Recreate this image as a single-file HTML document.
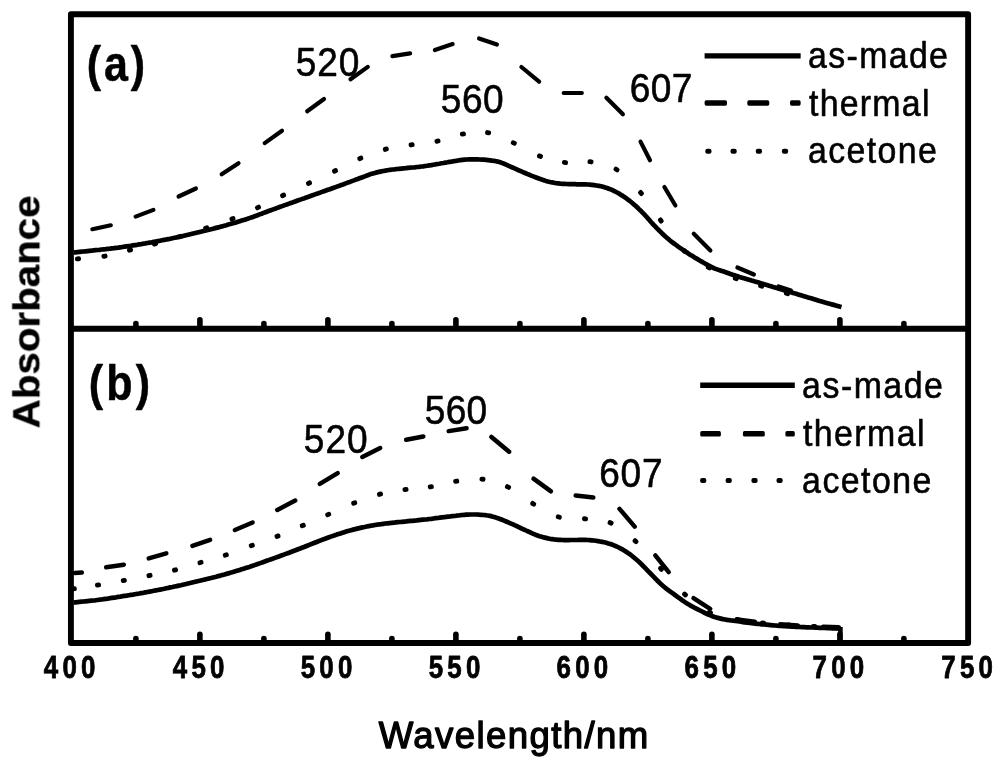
<!DOCTYPE html>
<html><head><meta charset="utf-8"><title>Absorbance spectra</title>
<style>
html,body{margin:0;padding:0;background:#fff;}
body{width:1000px;height:765px;overflow:hidden;}
svg{display:block;}
text{font-family:"Liberation Sans",sans-serif;fill:#000;}
</style></head><body>
<svg width="1000" height="765" viewBox="0 0 1000 765">
<rect x="0" y="0" width="1000" height="765" fill="#fff"/>
<!-- frame -->
<rect x="70.92" y="14.2" width="897.2" height="628.8" fill="none" stroke="#000" stroke-width="5.9" stroke-linejoin="round"/>
<line x1="70" y1="328.8" x2="968" y2="328.8" stroke="#000" stroke-width="6"/>
<g stroke="#000" stroke-width="5.6" stroke-linecap="round"><line x1="135.9" y1="326.8" x2="135.9" y2="323.6"/><line x1="199.9" y1="326.8" x2="199.9" y2="319.8"/><line x1="263.9" y1="326.8" x2="263.9" y2="323.6"/><line x1="327.9" y1="326.8" x2="327.9" y2="319.8"/><line x1="391.9" y1="326.8" x2="391.9" y2="323.6"/><line x1="455.9" y1="326.8" x2="455.9" y2="319.8"/><line x1="519.9" y1="326.8" x2="519.9" y2="323.6"/><line x1="583.9" y1="326.8" x2="583.9" y2="319.8"/><line x1="647.9" y1="326.8" x2="647.9" y2="323.6"/><line x1="711.9" y1="326.8" x2="711.9" y2="319.8"/><line x1="775.9" y1="326.8" x2="775.9" y2="323.6"/><line x1="839.9" y1="326.8" x2="839.9" y2="319.8"/><line x1="903.9" y1="326.8" x2="903.9" y2="323.6"/></g>
<g stroke="#000" stroke-width="5.6" stroke-linecap="round"><line x1="135.9" y1="641.0" x2="135.9" y2="638.6"/><line x1="199.9" y1="641.0" x2="199.9" y2="634.4"/><line x1="263.9" y1="641.0" x2="263.9" y2="638.6"/><line x1="327.9" y1="641.0" x2="327.9" y2="634.4"/><line x1="391.9" y1="641.0" x2="391.9" y2="638.6"/><line x1="455.9" y1="641.0" x2="455.9" y2="634.4"/><line x1="519.9" y1="641.0" x2="519.9" y2="638.6"/><line x1="583.9" y1="641.0" x2="583.9" y2="634.4"/><line x1="647.9" y1="641.0" x2="647.9" y2="638.6"/><line x1="711.9" y1="641.0" x2="711.9" y2="634.4"/><line x1="775.9" y1="641.0" x2="775.9" y2="638.6"/><line x1="839.9" y1="641.0" x2="839.9" y2="634.4"/><line x1="903.9" y1="641.0" x2="903.9" y2="638.6"/></g>
<!-- panel a -->
<g fill="#000"><rect x="-3.0" y="-2.45" width="6.0" height="4.9" rx="2.1" ry="2.1" transform="translate(78.0,258.8) rotate(-5)"/><rect x="-3.0" y="-2.45" width="6.0" height="4.9" rx="2.1" ry="2.1" transform="translate(104.5,256.2) rotate(-10)"/><rect x="-3.0" y="-2.45" width="6.0" height="4.9" rx="2.1" ry="2.1" transform="translate(130.0,250.0) rotate(-14)"/><rect x="-3.0" y="-2.45" width="6.0" height="4.9" rx="2.1" ry="2.1" transform="translate(155.0,243.8) rotate(-15)"/><rect x="-3.0" y="-2.45" width="6.0" height="4.9" rx="2.1" ry="2.1" transform="translate(180.5,236.5) rotate(-17)"/><rect x="-3.0" y="-2.45" width="6.0" height="4.9" rx="2.1" ry="2.1" transform="translate(206.2,228.0) rotate(-19)"/><rect x="-3.0" y="-2.45" width="6.0" height="4.9" rx="2.1" ry="2.1" transform="translate(232.5,218.8) rotate(-22)"/><rect x="-3.0" y="-2.45" width="6.0" height="4.9" rx="2.1" ry="2.1" transform="translate(258.0,207.5) rotate(-25)"/><rect x="-3.0" y="-2.45" width="6.0" height="4.9" rx="2.1" ry="2.1" transform="translate(283.1,195.4) rotate(-26)"/><rect x="-3.0" y="-2.45" width="6.0" height="4.9" rx="2.1" ry="2.1" transform="translate(309.0,183.1) rotate(-25)"/><rect x="-3.0" y="-2.45" width="6.0" height="4.9" rx="2.1" ry="2.1" transform="translate(335.0,170.9) rotate(-26)"/><rect x="-3.0" y="-2.45" width="6.0" height="4.9" rx="2.1" ry="2.1" transform="translate(360.3,158.3) rotate(-23)"/><rect x="-3.0" y="-2.45" width="6.0" height="4.9" rx="2.1" ry="2.1" transform="translate(385.8,149.2) rotate(-15)"/><rect x="-3.0" y="-2.45" width="6.0" height="4.9" rx="2.1" ry="2.1" transform="translate(411.6,144.8) rotate(-9)"/><rect x="-3.0" y="-2.45" width="6.0" height="4.9" rx="2.1" ry="2.1" transform="translate(437.5,141.1) rotate(-12)"/><rect x="-3.0" y="-2.45" width="6.0" height="4.9" rx="2.1" ry="2.1" transform="translate(462.9,134.0) rotate(-9)"/><rect x="-3.0" y="-2.45" width="6.0" height="4.9" rx="2.1" ry="2.1" transform="translate(488.1,132.7) rotate(10)"/><rect x="-3.0" y="-2.45" width="6.0" height="4.9" rx="2.1" ry="2.1" transform="translate(513.8,143.0) rotate(24)"/><rect x="-3.0" y="-2.45" width="6.0" height="4.9" rx="2.1" ry="2.1" transform="translate(540.0,156.2) rotate(21)"/><rect x="-3.0" y="-2.45" width="6.0" height="4.9" rx="2.1" ry="2.1" transform="translate(565.0,162.5) rotate(6)"/><rect x="-3.0" y="-2.45" width="6.0" height="4.9" rx="2.1" ry="2.1" transform="translate(590.5,161.8) rotate(8)"/><rect x="-3.0" y="-2.45" width="6.0" height="4.9" rx="2.1" ry="2.1" transform="translate(616.5,169.5) rotate(32)"/><rect x="-3.0" y="-2.45" width="6.0" height="4.9" rx="2.1" ry="2.1" transform="translate(641.0,193.0) rotate(49)"/><rect x="-3.0" y="-2.45" width="6.0" height="4.9" rx="2.1" ry="2.1" transform="translate(660.8,220.5) rotate(53)"/><rect x="-3.0" y="-2.45" width="6.0" height="4.9" rx="2.1" ry="2.1" transform="translate(684.5,251.0) rotate(44)"/><rect x="-3.0" y="-2.45" width="6.0" height="4.9" rx="2.1" ry="2.1" transform="translate(708.8,267.5) rotate(28)"/><rect x="-3.0" y="-2.45" width="6.0" height="4.9" rx="2.1" ry="2.1" transform="translate(735.8,278.5) rotate(19)"/><rect x="-3.0" y="-2.45" width="6.0" height="4.9" rx="2.1" ry="2.1" transform="translate(761.2,286.0) rotate(16)"/><rect x="-3.0" y="-2.45" width="6.0" height="4.9" rx="2.1" ry="2.1" transform="translate(787.0,293.5) rotate(16)"/></g>
<g stroke="#000" stroke-width="4.2" stroke-linecap="round" fill="none"><line x1="92.4" y1="229.2" x2="110.8" y2="225.3"/><line x1="135.6" y1="216.6" x2="153.4" y2="209.9"/><line x1="178.6" y1="196.5" x2="195.9" y2="188.5"/><line x1="221.7" y1="174.3" x2="238.5" y2="163.2"/><line x1="264.7" y1="143.1" x2="282.0" y2="130.7"/><line x1="307.2" y1="111.3" x2="324.0" y2="99.0"/><line x1="350.5" y1="79.3" x2="367.8" y2="66.9"/><line x1="392.4" y1="56.1" x2="410.1" y2="53.4"/><line x1="434.9" y1="50.1" x2="452.6" y2="44.1"/><line x1="479.1" y1="38.4" x2="496.9" y2="44.6"/><line x1="521.4" y1="67.0" x2="539.1" y2="81.7"/><line x1="563.7" y1="93.0" x2="581.8" y2="93.0"/><line x1="606.4" y1="97.8" x2="622.9" y2="114.2"/><line x1="640.5" y1="141.6" x2="650.0" y2="160.2"/><line x1="664.4" y1="187.0" x2="675.4" y2="205.5"/><line x1="693.8" y1="233.8" x2="710.4" y2="250.4"/><line x1="737.4" y1="267.5" x2="753.9" y2="274.5"/><line x1="778.6" y1="286.4" x2="790.9" y2="290.6"/></g>
<path d="M73.5,252.5 L75.5,252.3 L77.5,252.1 L79.5,251.9 L81.5,251.7 L83.4,251.5 L85.4,251.3 L87.4,251.1 L89.4,250.9 L91.4,250.7 L93.4,250.4 L95.5,250.2 L97.5,250.0 L99.5,249.8 L101.6,249.5 L103.7,249.3 L105.8,249.1 L107.8,248.8 L109.9,248.6 L112.0,248.3 L114.1,248.1 L116.2,247.8 L118.3,247.6 L120.4,247.3 L122.5,247.0 L124.6,246.7 L126.7,246.4 L128.8,246.1 L130.8,245.8 L132.9,245.4 L135.0,245.1 L137.1,244.8 L139.2,244.4 L141.2,244.1 L143.3,243.7 L145.4,243.4 L147.5,243.0 L149.6,242.6 L151.7,242.3 L153.8,241.9 L155.8,241.5 L157.9,241.1 L160.0,240.7 L162.1,240.3 L164.2,239.9 L166.2,239.5 L168.3,239.1 L170.4,238.7 L172.5,238.2 L174.6,237.8 L176.7,237.4 L178.8,236.9 L180.8,236.4 L182.9,236.0 L185.0,235.5 L187.1,235.0 L189.2,234.5 L191.2,234.0 L193.3,233.5 L195.4,233.0 L197.5,232.5 L199.6,232.0 L201.7,231.5 L203.8,231.0 L205.8,230.5 L207.9,230.0 L210.0,229.5 L212.1,229.0 L214.2,228.4 L216.2,227.9 L218.3,227.4 L220.4,226.8 L222.5,226.2 L224.4,225.7 L226.3,225.2 L228.3,224.6 L230.2,224.1 L232.1,223.5 L234.0,223.0 L236.0,222.4 L237.9,221.8 L239.8,221.2 L241.7,220.6 L243.7,220.0 L245.6,219.4 L247.5,218.8 L249.5,218.1 L251.4,217.4 L253.5,216.7 L255.5,215.9 L257.6,215.2 L259.6,214.4 L261.6,213.7 L263.6,212.9 L265.5,212.2 L267.4,211.5 L269.2,210.8 L270.9,210.2 L272.5,209.6 L275.1,208.7 L277.2,207.9 L279.1,207.2 L280.9,206.6 L282.8,205.9 L284.9,205.1 L287.5,204.2 L289.1,203.6 L290.8,203.0 L292.6,202.4 L294.5,201.7 L296.4,201.0 L298.4,200.3 L300.4,199.6 L302.4,198.9 L304.5,198.2 L306.5,197.4 L308.6,196.7 L310.5,196.0 L312.5,195.3 L314.4,194.6 L316.3,193.9 L318.3,193.3 L320.2,192.6 L322.1,191.9 L324.0,191.2 L326.0,190.5 L327.9,189.8 L329.8,189.2 L331.7,188.5 L333.7,187.8 L335.6,187.1 L337.5,186.4 L339.5,185.7 L341.5,184.9 L343.6,184.2 L345.7,183.4 L347.8,182.6 L349.9,181.9 L351.9,181.1 L353.9,180.4 L355.9,179.6 L357.7,179.0 L359.5,178.3 L361.1,177.7 L362.5,177.2 L365.5,176.1 L367.6,175.3 L369.2,174.6 L370.9,174.0 L373.0,173.4 L374.9,172.9 L376.9,172.4 L379.1,171.9 L381.3,171.4 L383.4,171.0 L385.5,170.6 L387.5,170.2 L390.0,169.8 L392.3,169.5 L394.5,169.3 L396.8,169.0 L399.2,168.8 L401.3,168.6 L403.5,168.4 L405.8,168.2 L408.0,167.9 L410.3,167.7 L412.5,167.5 L414.7,167.3 L416.9,167.0 L419.0,166.8 L421.2,166.5 L423.3,166.3 L425.4,166.0 L427.4,165.7 L429.4,165.4 L431.4,165.1 L433.4,164.7 L435.4,164.4 L437.5,164.0 L439.4,163.7 L441.4,163.3 L443.4,163.0 L445.5,162.6 L447.5,162.3 L449.5,161.9 L451.5,161.6 L453.7,161.2 L455.9,160.9 L458.1,160.5 L460.3,160.2 L462.4,159.9 L464.6,159.7 L466.8,159.5 L469.0,159.4 L471.1,159.4 L473.3,159.4 L475.5,159.4 L477.6,159.4 L479.7,159.5 L481.9,159.6 L484.0,159.7 L486.1,159.9 L488.1,160.1 L490.0,160.3 L492.1,160.6 L494.1,160.8 L495.9,161.2 L497.9,161.6 L500.0,162.2 L501.9,162.9 L504.0,163.7 L506.1,164.7 L508.2,165.6 L510.4,166.6 L512.5,167.5 L514.6,168.4 L516.7,169.3 L518.8,170.3 L520.8,171.2 L522.9,172.1 L525.0,173.0 L527.1,173.9 L529.2,174.7 L531.2,175.6 L533.3,176.4 L535.4,177.2 L537.5,178.0 L539.6,178.8 L541.7,179.5 L543.8,180.2 L545.8,180.9 L547.9,181.5 L550.0,182.0 L552.1,182.4 L554.2,182.8 L556.2,183.1 L558.3,183.3 L560.4,183.6 L562.5,183.8 L564.6,183.9 L566.7,184.0 L568.8,184.1 L570.8,184.1 L572.9,184.2 L575.0,184.2 L577.0,184.3 L579.1,184.3 L581.1,184.3 L583.1,184.3 L585.2,184.3 L587.5,184.5 L589.6,184.7 L591.8,184.9 L594.1,185.2 L596.4,185.5 L598.7,185.9 L601.0,186.3 L603.1,186.8 L605.1,187.4 L607.0,188.0 L608.8,188.7 L610.7,189.4 L612.5,190.2 L614.3,191.1 L616.1,192.0 L618.0,193.0 L619.8,194.1 L621.7,195.2 L623.6,196.5 L625.5,197.7 L627.3,199.1 L629.2,200.5 L630.8,201.8 L632.5,203.2 L634.1,204.6 L635.8,206.0 L637.4,207.5 L639.0,209.1 L640.7,210.7 L642.3,212.3 L643.8,213.8 L645.2,215.4 L646.7,217.0 L648.1,218.6 L649.6,220.3 L651.0,222.0 L652.5,223.6 L653.9,225.2 L655.4,226.7 L657.0,228.4 L658.7,230.0 L660.3,231.6 L661.9,233.2 L663.5,234.7 L665.1,236.2 L666.8,237.7 L668.4,239.1 L670.0,240.5 L671.7,241.8 L673.3,243.0 L674.9,244.2 L676.6,245.4 L678.2,246.6 L679.9,247.8 L681.5,248.9 L683.3,250.2 L685.1,251.4 L686.9,252.5 L688.6,253.7 L690.5,254.9 L692.5,256.1 L694.6,257.4 L696.2,258.4 L698.0,259.4 L699.8,260.5 L701.7,261.6 L703.6,262.7 L705.5,263.8 L707.4,264.8 L709.2,265.8 L710.9,266.7 L712.5,267.5 L714.9,268.6 L717.1,269.4 L719.1,270.1 L721.0,270.7 L723.0,271.3 L725.0,272.0 L727.1,272.7 L729.2,273.5 L731.2,274.2 L733.3,274.9 L735.4,275.6 L737.5,276.2 L739.4,276.9 L741.2,277.4 L743.0,277.9 L744.9,278.5 L747.2,279.2 L750.0,280.0 L751.5,280.5 L753.2,280.9 L754.9,281.5 L756.8,282.0 L758.7,282.6 L760.7,283.2 L762.7,283.8 L764.8,284.4 L766.9,285.1 L769.0,285.7 L771.0,286.3 L773.0,286.9 L775.0,287.5 L776.9,288.1 L778.8,288.7 L780.8,289.2 L782.7,289.8 L784.6,290.4 L786.5,291.0 L788.5,291.5 L790.4,292.1 L792.3,292.7 L794.2,293.3 L796.2,293.8 L798.1,294.4 L800.0,295.0 L801.9,295.6 L803.9,296.2 L805.9,296.8 L808.0,297.4 L810.0,298.0 L812.0,298.6 L814.0,299.2 L816.0,299.8 L817.9,300.4 L819.8,301.0 L821.6,301.5 L823.4,302.0 L825.0,302.5 L827.5,303.2 L829.7,303.8 L831.8,304.4 L833.8,304.9 L835.7,305.4 L837.6,305.9 L839.5,306.5 L841.5,307.0" stroke="#000" stroke-width="4.7" fill="none" stroke-linejoin="round" stroke-linecap="butt"/>
<!-- panel b -->
<g fill="#000"><rect x="-3.0" y="-2.45" width="6.0" height="4.9" rx="2.1" ry="2.1" transform="translate(73.8,588.8) rotate(-9)"/><rect x="-3.0" y="-2.45" width="6.0" height="4.9" rx="2.1" ry="2.1" transform="translate(98.0,585.0) rotate(-9)"/><rect x="-3.0" y="-2.45" width="6.0" height="4.9" rx="2.1" ry="2.1" transform="translate(123.8,580.5) rotate(-10)"/><rect x="-3.0" y="-2.45" width="6.0" height="4.9" rx="2.1" ry="2.1" transform="translate(149.5,575.5) rotate(-12)"/><rect x="-3.0" y="-2.45" width="6.0" height="4.9" rx="2.1" ry="2.1" transform="translate(175.0,570.0) rotate(-14)"/><rect x="-3.0" y="-2.45" width="6.0" height="4.9" rx="2.1" ry="2.1" transform="translate(200.5,562.5) rotate(-16)"/><rect x="-3.0" y="-2.45" width="6.0" height="4.9" rx="2.1" ry="2.1" transform="translate(225.8,555.0) rotate(-18)"/><rect x="-3.0" y="-2.45" width="6.0" height="4.9" rx="2.1" ry="2.1" transform="translate(251.8,545.5) rotate(-20)"/><rect x="-3.0" y="-2.45" width="6.0" height="4.9" rx="2.1" ry="2.1" transform="translate(277.5,536.2) rotate(-21)"/><rect x="-3.0" y="-2.45" width="6.0" height="4.9" rx="2.1" ry="2.1" transform="translate(302.8,525.5) rotate(-23)"/><rect x="-3.0" y="-2.45" width="6.0" height="4.9" rx="2.1" ry="2.1" transform="translate(328.2,514.5) rotate(-24)"/><rect x="-3.0" y="-2.45" width="6.0" height="4.9" rx="2.1" ry="2.1" transform="translate(354.2,503.0) rotate(-21)"/><rect x="-3.0" y="-2.45" width="6.0" height="4.9" rx="2.1" ry="2.1" transform="translate(380.0,494.2) rotate(-15)"/><rect x="-3.0" y="-2.45" width="6.0" height="4.9" rx="2.1" ry="2.1" transform="translate(405.5,489.5) rotate(-8)"/><rect x="-3.0" y="-2.45" width="6.0" height="4.9" rx="2.1" ry="2.1" transform="translate(430.8,486.8) rotate(-9)"/><rect x="-3.0" y="-2.45" width="6.0" height="4.9" rx="2.1" ry="2.1" transform="translate(456.2,481.2) rotate(-8)"/><rect x="-3.0" y="-2.45" width="6.0" height="4.9" rx="2.1" ry="2.1" transform="translate(482.5,479.2) rotate(6)"/><rect x="-3.0" y="-2.45" width="6.0" height="4.9" rx="2.1" ry="2.1" transform="translate(508.0,487.0) rotate(26)"/><rect x="-3.0" y="-2.45" width="6.0" height="4.9" rx="2.1" ry="2.1" transform="translate(533.2,503.8) rotate(31)"/><rect x="-3.0" y="-2.45" width="6.0" height="4.9" rx="2.1" ry="2.1" transform="translate(558.8,517.0) rotate(16)"/><rect x="-3.0" y="-2.45" width="6.0" height="4.9" rx="2.1" ry="2.1" transform="translate(585.0,518.8) rotate(6)"/><rect x="-3.0" y="-2.45" width="6.0" height="4.9" rx="2.1" ry="2.1" transform="translate(610.6,522.8) rotate(24)"/><rect x="-3.0" y="-2.45" width="6.0" height="4.9" rx="2.1" ry="2.1" transform="translate(635.5,541.2) rotate(42)"/><rect x="-3.0" y="-2.45" width="6.0" height="4.9" rx="2.1" ry="2.1" transform="translate(661.0,568.8) rotate(47)"/><rect x="-3.0" y="-2.45" width="6.0" height="4.9" rx="2.1" ry="2.1" transform="translate(685.0,594.5) rotate(42)"/><rect x="-3.0" y="-2.45" width="6.0" height="4.9" rx="2.1" ry="2.1" transform="translate(710.0,612.5) rotate(26)"/><rect x="-3.0" y="-2.45" width="6.0" height="4.9" rx="2.1" ry="2.1" transform="translate(737.5,619.6) rotate(11)"/><rect x="-3.0" y="-2.45" width="6.0" height="4.9" rx="2.1" ry="2.1" transform="translate(763.0,623.0) rotate(6)"/><rect x="-3.0" y="-2.45" width="6.0" height="4.9" rx="2.1" ry="2.1" transform="translate(788.5,625.0) rotate(4)"/><rect x="-3.0" y="-2.45" width="6.0" height="4.9" rx="2.1" ry="2.1" transform="translate(814.0,626.4) rotate(3)"/></g>
<g stroke="#000" stroke-width="4.5" stroke-linecap="round" fill="none"><line x1="74.7" y1="572.9" x2="81.8" y2="572.6"/><line x1="106.2" y1="567.3" x2="123.8" y2="564.7"/><line x1="148.7" y1="558.4" x2="166.3" y2="553.3"/><line x1="192.4" y1="545.9" x2="210.1" y2="539.9"/><line x1="234.9" y1="530.0" x2="252.6" y2="522.5"/><line x1="277.3" y1="509.9" x2="295.2" y2="500.6"/><line x1="319.8" y1="483.9" x2="337.7" y2="473.1"/><line x1="362.3" y1="457.0" x2="380.2" y2="448.0"/><line x1="406.2" y1="439.8" x2="423.3" y2="436.5"/><line x1="448.7" y1="431.1" x2="466.6" y2="428.2"/><line x1="491.4" y1="437.0" x2="509.1" y2="451.7"/><line x1="533.5" y1="478.7" x2="551.0" y2="491.3"/><line x1="575.7" y1="495.6" x2="593.3" y2="497.4"/><line x1="619.5" y1="508.9" x2="634.7" y2="526.6"/><line x1="655.3" y1="555.4" x2="668.7" y2="572.1"/><line x1="693.5" y1="598.1" x2="710.2" y2="608.9"/><line x1="737.2" y1="619.4" x2="754.8" y2="621.7"/><line x1="780.2" y1="624.3" x2="797.8" y2="625.5"/><line x1="823.2" y1="626.7" x2="838.8" y2="627.3"/></g>
<path d="M73.5,602.5 L75.5,602.3 L77.5,602.1 L79.5,601.9 L81.5,601.7 L83.4,601.5 L85.4,601.3 L87.4,601.1 L89.4,600.9 L91.4,600.7 L93.4,600.5 L95.5,600.3 L97.5,600.0 L99.5,599.7 L101.6,599.5 L103.7,599.2 L105.8,598.9 L107.8,598.6 L109.9,598.2 L112.0,597.9 L114.1,597.6 L116.2,597.3 L118.3,596.9 L120.4,596.6 L122.5,596.2 L124.6,595.9 L126.7,595.6 L128.8,595.2 L130.8,594.9 L132.9,594.6 L135.0,594.2 L137.1,593.8 L139.2,593.5 L141.2,593.1 L143.3,592.8 L145.4,592.4 L147.5,592.0 L149.6,591.6 L151.7,591.2 L153.8,590.8 L155.8,590.4 L157.9,590.0 L160.0,589.6 L162.1,589.2 L164.2,588.8 L166.2,588.3 L168.3,587.9 L170.4,587.4 L172.5,587.0 L174.6,586.5 L176.7,586.1 L178.8,585.6 L180.8,585.2 L182.9,584.7 L185.0,584.2 L187.1,583.7 L189.2,583.2 L191.2,582.7 L193.3,582.2 L195.4,581.7 L197.5,581.2 L199.6,580.8 L201.7,580.3 L203.8,579.8 L205.8,579.2 L207.9,578.7 L210.0,578.2 L212.1,577.7 L214.2,577.2 L216.2,576.7 L218.3,576.1 L220.4,575.6 L222.5,575.0 L224.4,574.5 L226.3,573.9 L228.3,573.4 L230.2,572.8 L232.1,572.3 L234.0,571.7 L236.0,571.1 L237.9,570.5 L239.8,569.9 L241.7,569.3 L243.7,568.7 L245.6,568.1 L247.5,567.5 L249.4,566.9 L251.3,566.2 L253.3,565.6 L255.2,564.9 L257.1,564.2 L259.0,563.6 L261.0,562.9 L262.9,562.2 L264.8,561.5 L266.7,560.8 L268.7,560.1 L270.6,559.4 L272.5,558.8 L274.4,558.1 L276.3,557.4 L278.2,556.7 L280.1,556.0 L282.0,555.3 L283.9,554.6 L285.8,553.9 L287.7,553.2 L289.6,552.5 L291.6,551.7 L293.5,551.0 L295.5,550.3 L297.5,549.5 L299.4,548.8 L301.3,548.0 L303.3,547.3 L305.2,546.5 L307.2,545.7 L309.2,544.9 L311.2,544.1 L313.3,543.3 L315.3,542.5 L317.3,541.7 L319.2,540.9 L321.2,540.2 L323.1,539.4 L325.0,538.8 L327.0,538.0 L329.0,537.3 L330.9,536.6 L332.9,535.9 L334.8,535.3 L336.7,534.6 L338.6,534.0 L340.5,533.4 L342.4,532.8 L344.3,532.2 L346.2,531.6 L348.1,531.0 L350.0,530.5 L352.1,529.9 L354.2,529.4 L356.2,528.9 L358.3,528.4 L360.4,527.9 L362.5,527.4 L364.6,527.0 L366.7,526.5 L368.8,526.1 L370.8,525.7 L372.9,525.4 L375.0,525.0 L377.1,524.7 L379.2,524.3 L381.2,524.1 L383.3,523.8 L385.4,523.5 L387.5,523.3 L389.6,523.1 L391.7,522.9 L393.8,522.7 L395.8,522.4 L397.9,522.2 L400.0,522.0 L402.1,521.8 L404.2,521.6 L406.2,521.4 L408.3,521.1 L410.4,520.9 L412.5,520.8 L414.6,520.6 L416.7,520.4 L418.8,520.1 L420.8,519.9 L422.9,519.7 L425.0,519.5 L427.1,519.3 L429.2,519.0 L431.4,518.8 L433.5,518.5 L435.7,518.2 L437.8,518.0 L439.9,517.7 L442.0,517.4 L444.1,517.2 L446.1,516.9 L448.1,516.7 L450.0,516.5 L452.2,516.2 L454.4,516.0 L456.4,515.7 L458.5,515.5 L460.5,515.2 L462.4,515.0 L464.3,514.8 L466.2,514.7 L468.1,514.6 L470.0,514.5 L472.3,514.5 L474.7,514.5 L477.0,514.5 L479.2,514.7 L481.4,514.8 L483.5,515.0 L485.6,515.2 L487.5,515.5 L489.9,515.9 L492.0,516.4 L494.1,517.0 L496.0,517.6 L498.0,518.3 L500.0,519.0 L502.1,519.8 L504.2,520.6 L506.2,521.5 L508.3,522.4 L510.4,523.3 L512.5,524.2 L514.6,525.2 L516.7,526.1 L518.8,527.1 L520.8,528.1 L522.9,529.1 L525.0,530.0 L527.1,531.0 L529.2,531.9 L531.2,532.9 L533.3,533.8 L535.4,534.7 L537.5,535.5 L539.6,536.2 L541.7,536.8 L543.8,537.4 L545.8,537.9 L547.9,538.4 L550.0,538.8 L552.1,539.1 L554.2,539.4 L556.2,539.6 L558.3,539.8 L560.4,539.9 L562.5,540.0 L564.6,540.1 L566.7,540.1 L568.8,540.1 L570.8,540.0 L572.9,540.0 L575.0,540.0 L577.1,540.0 L579.2,539.9 L581.2,539.9 L583.3,539.9 L585.4,539.9 L587.5,540.0 L589.6,540.1 L591.7,540.3 L593.8,540.5 L595.8,540.8 L597.9,541.1 L600.0,541.5 L602.1,541.9 L604.2,542.3 L606.2,542.8 L608.3,543.4 L610.4,544.0 L612.5,544.8 L614.6,545.6 L616.7,546.5 L618.8,547.5 L620.8,548.6 L622.9,549.7 L625.0,551.0 L626.8,552.2 L628.6,553.4 L630.4,554.7 L632.1,556.0 L633.9,557.5 L635.7,559.0 L637.5,560.5 L639.1,561.9 L640.6,563.4 L642.2,565.0 L643.8,566.6 L645.3,568.2 L646.9,569.8 L648.4,571.4 L650.0,573.0 L651.6,574.6 L653.1,576.2 L654.7,577.8 L656.2,579.4 L657.8,581.0 L659.4,582.6 L660.9,584.1 L662.5,585.5 L664.3,587.0 L666.1,588.5 L667.9,589.8 L669.6,591.1 L671.4,592.4 L673.2,593.7 L675.0,595.0 L676.8,596.3 L678.6,597.6 L680.4,598.9 L682.1,600.2 L683.9,601.4 L685.7,602.6 L687.5,603.8 L689.3,604.8 L691.1,605.9 L692.9,606.8 L694.6,607.8 L696.4,608.7 L698.2,609.6 L700.0,610.5 L702.1,611.5 L704.2,612.6 L706.2,613.6 L708.3,614.6 L710.4,615.4 L712.5,616.2 L714.6,617.0 L716.7,617.6 L718.8,618.1 L720.8,618.6 L722.9,619.1 L725.0,619.5 L727.1,619.9 L729.2,620.2 L731.2,620.5 L733.3,620.7 L735.4,621.0 L737.5,621.2 L739.4,621.5 L741.2,621.8 L743.0,622.1 L744.9,622.4 L747.2,622.7 L750.0,623.0 L751.6,623.2 L753.4,623.4 L755.4,623.6 L757.4,623.8 L759.5,624.0 L761.7,624.3 L764.0,624.5 L766.2,624.7 L768.5,624.9 L770.7,625.1 L772.9,625.3 L775.0,625.5 L777.1,625.7 L779.2,625.8 L781.2,626.0 L783.3,626.1 L785.4,626.2 L787.5,626.3 L789.6,626.5 L791.7,626.6 L793.8,626.7 L795.8,626.8 L797.9,626.9 L800.0,627.0 L802.1,627.1 L804.3,627.2 L806.5,627.3 L808.7,627.4 L810.9,627.5 L813.1,627.5 L815.3,627.6 L817.4,627.7 L819.4,627.8 L821.4,627.9 L823.2,627.9 L825.0,628.0 L827.7,628.1 L830.1,628.2 L832.3,628.3 L834.4,628.4 L836.3,628.5 L838.4,628.6 L840.5,628.8" stroke="#000" stroke-width="4.7" fill="none" stroke-linejoin="round" stroke-linecap="butt"/>
<line x1="840.4" y1="627" x2="840.4" y2="641" stroke="#000" stroke-width="4.6"/>
<!-- legends -->
<line x1="704.60" y1="55.90" x2="800.65" y2="55.90" stroke="#000" stroke-width="5.4"/><rect x="704.60" y="100.30" width="22.40" height="5.4" rx="1.6" ry="1.6" fill="#000"/><rect x="747.30" y="100.30" width="22.00" height="5.4" rx="1.6" ry="1.6" fill="#000"/><rect x="790.00" y="100.30" width="10.65" height="5.4" rx="1.6" ry="1.6" fill="#000"/><rect x="705.30" y="148.80" width="6.2" height="5.0" rx="2" ry="2" fill="#000"/><rect x="730.50" y="148.80" width="6.2" height="5.0" rx="2" ry="2" fill="#000"/><rect x="755.80" y="148.80" width="6.2" height="5.0" rx="2" ry="2" fill="#000"/><rect x="781.90" y="148.80" width="6.2" height="5.0" rx="2" ry="2" fill="#000"/>
<line x1="700.20" y1="385.20" x2="794.80" y2="385.20" stroke="#000" stroke-width="5.4"/><rect x="700.20" y="431.10" width="20.70" height="5.4" rx="1.6" ry="1.6" fill="#000"/><rect x="742.90" y="431.10" width="21.90" height="5.4" rx="1.6" ry="1.6" fill="#000"/><rect x="785.40" y="431.10" width="9.40" height="5.4" rx="1.6" ry="1.6" fill="#000"/><rect x="700.10" y="477.90" width="6.2" height="5.0" rx="2" ry="2" fill="#000"/><rect x="725.60" y="477.90" width="6.2" height="5.0" rx="2" ry="2" fill="#000"/><rect x="751.40" y="477.90" width="6.2" height="5.0" rx="2" ry="2" fill="#000"/><rect x="776.50" y="477.90" width="6.2" height="5.0" rx="2" ry="2" fill="#000"/>
<!-- text -->
<g style="opacity:0.999">
<text transform="translate(86.85,80.50) scale(0.8500,1)" font-size="50.60" font-weight="bold" letter-spacing="3.290" stroke="#000" stroke-width="0.5" stroke-linejoin="round">(a)</text>
<text transform="translate(88.65,399.90) scale(0.8500,1)" font-size="50.60" font-weight="bold" letter-spacing="3.833" stroke="#000" stroke-width="0.5" stroke-linejoin="round">(b)</text>
<text transform="translate(808.12,68.11) scale(0.9300,1)" font-size="36.40" letter-spacing="1.457" stroke="#000" stroke-width="0.6" stroke-linejoin="round">as-made</text>
<text transform="translate(809.02,115.71) scale(0.9300,1)" font-size="36.40" letter-spacing="1.358" stroke="#000" stroke-width="0.6" stroke-linejoin="round">thermal</text>
<text transform="translate(808.12,163.11) scale(0.9300,1)" font-size="36.40" letter-spacing="1.483" stroke="#000" stroke-width="0.6" stroke-linejoin="round">acetone</text>
<text transform="translate(802.12,398.11) scale(0.9300,1)" font-size="36.40" letter-spacing="1.633" stroke="#000" stroke-width="0.6" stroke-linejoin="round">as-made</text>
<text transform="translate(803.02,445.61) scale(0.9300,1)" font-size="36.40" letter-spacing="1.539" stroke="#000" stroke-width="0.6" stroke-linejoin="round">thermal</text>
<text transform="translate(802.12,493.11) scale(0.9300,1)" font-size="36.40" letter-spacing="1.598" stroke="#000" stroke-width="0.6" stroke-linejoin="round">acetone</text>
<text transform="translate(295.67,75.71) scale(0.9200,1)" font-size="40.30" letter-spacing="1.043" stroke="#000" stroke-width="0.6" stroke-linejoin="round">520</text>
<text transform="translate(440.85,112.71) scale(0.9200,1)" font-size="40.30" letter-spacing="0.518" stroke="#000" stroke-width="0.6" stroke-linejoin="round">560</text>
<text transform="translate(629.66,101.71) scale(0.9200,1)" font-size="40.30" letter-spacing="0.529" stroke="#000" stroke-width="0.6" stroke-linejoin="round">607</text>
<text transform="translate(303.85,453.01) scale(0.9200,1)" font-size="40.30" letter-spacing="1.052" stroke="#000" stroke-width="0.6" stroke-linejoin="round">520</text>
<text transform="translate(424.85,424.01) scale(0.9200,1)" font-size="40.30" letter-spacing="0.212" stroke="#000" stroke-width="0.6" stroke-linejoin="round">560</text>
<text transform="translate(599.34,486.71) scale(0.9200,1)" font-size="40.30" letter-spacing="0.716" stroke="#000" stroke-width="0.6" stroke-linejoin="round">607</text>
<text transform="translate(378.73,748.00) scale(1.0000,1)" font-size="36.60" letter-spacing="1.396" stroke="#000" stroke-width="1.3" stroke-linejoin="round">Wavelength/nm</text>
<text transform="translate(43.82,677.70) scale(0.8350,1)" font-size="31.00" font-weight="bold" letter-spacing="5.097" stroke="#000" stroke-width="0.8" stroke-linejoin="round">400</text>
<text transform="translate(172.82,677.70) scale(0.8350,1)" font-size="31.00" font-weight="bold" letter-spacing="5.097" stroke="#000" stroke-width="0.8" stroke-linejoin="round">450</text>
<text transform="translate(300.66,677.70) scale(0.8350,1)" font-size="31.00" font-weight="bold" letter-spacing="5.097" stroke="#000" stroke-width="0.8" stroke-linejoin="round">500</text>
<text transform="translate(428.66,677.70) scale(0.8350,1)" font-size="31.00" font-weight="bold" letter-spacing="5.097" stroke="#000" stroke-width="0.8" stroke-linejoin="round">550</text>
<text transform="translate(556.57,677.70) scale(0.8350,1)" font-size="31.00" font-weight="bold" letter-spacing="5.097" stroke="#000" stroke-width="0.8" stroke-linejoin="round">600</text>
<text transform="translate(684.57,677.70) scale(0.8350,1)" font-size="31.00" font-weight="bold" letter-spacing="5.097" stroke="#000" stroke-width="0.8" stroke-linejoin="round">650</text>
<text transform="translate(812.55,677.70) scale(0.8350,1)" font-size="31.00" font-weight="bold" letter-spacing="5.097" stroke="#000" stroke-width="0.8" stroke-linejoin="round">700</text>
<text transform="translate(941.25,677.70) scale(0.8350,1)" font-size="31.00" font-weight="bold" letter-spacing="5.097" stroke="#000" stroke-width="0.8" stroke-linejoin="round">750</text>
<text transform="translate(39.35,428.26) rotate(-90) scale(1.0700,1)" font-size="37.50" font-weight="bold" letter-spacing="0.083" stroke="#000" stroke-width="0.4" stroke-linejoin="round">Absorbance</text>
</g>
</svg>
</body></html>
